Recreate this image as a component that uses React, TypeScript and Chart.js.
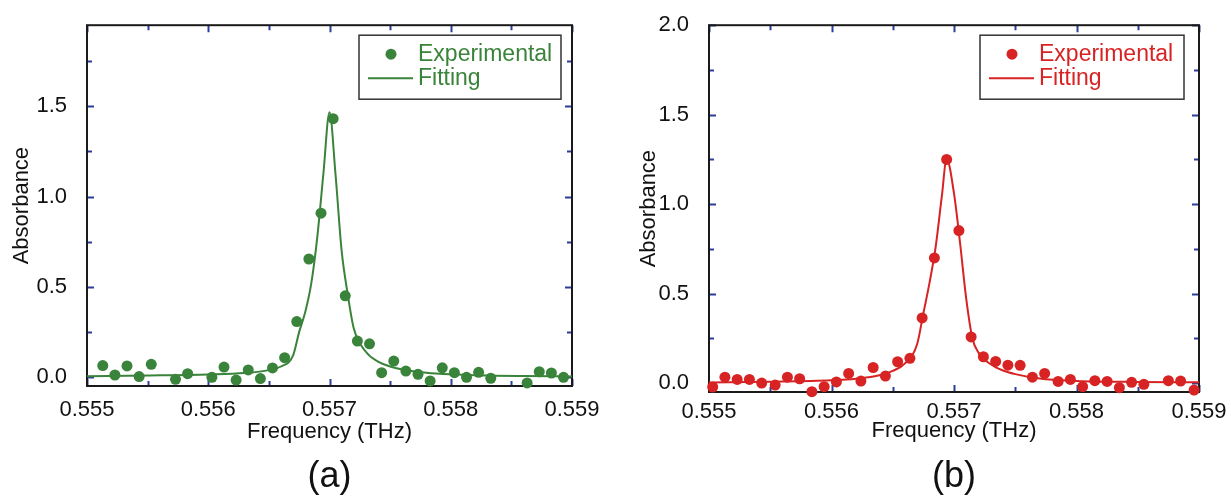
import React, { useEffect, useRef } from "react";
import { Chart, registerables } from "chart.js";

Chart.register(...registerables);

// ---------------- data ----------------
const expFreqA = [0.55513, 0.55523, 0.55533, 0.55543, 0.55553, 0.55573, 0.55583, 0.55603, 0.55613, 0.55623, 0.55633, 0.55643, 0.55653, 0.55663, 0.55673, 0.55683, 0.55693, 0.55703, 0.55713, 0.55723, 0.55733, 0.55743, 0.55753, 0.55763, 0.55773, 0.55783, 0.55793, 0.55803, 0.55813, 0.55823, 0.55833, 0.55863, 0.55873, 0.55883, 0.55893];
const expAbsA = [0.063, 0.011, 0.061, 0.002, 0.07, -0.013, 0.018, -0.002, 0.055, -0.017, 0.039, -0.009, 0.05, 0.107, 0.307, 0.654, 0.908, 1.432, 0.45, 0.199, 0.184, 0.024, 0.088, 0.033, 0.015, -0.022, 0.051, 0.024, -0.002, 0.026, -0.007, -0.033, 0.029, 0.022, -0.002];

const fitFreqA = [0.555, 0.5555, 0.556, 0.5563, 0.5565, 0.5566, 0.5567, 0.55675, 0.5568, 0.55685, 0.5569, 0.55695, 0.557, 0.55705, 0.5571, 0.55715, 0.5572, 0.5573, 0.5574, 0.5575, 0.5576, 0.5578, 0.558, 0.5583, 0.5586, 0.559];
const fitAbsA = [0.004, 0.008, 0.014, 0.022, 0.038, 0.058, 0.12, 0.25, 0.36, 0.52, 0.78, 1.13, 1.467, 1.12, 0.7, 0.46, 0.27, 0.14, 0.085, 0.058, 0.042, 0.024, 0.015, 0.008, 0.005, 0.003];

const expFreqB = [0.55503, 0.55513, 0.55523, 0.55533, 0.55543, 0.55554, 0.55564, 0.55574, 0.55584, 0.55594, 0.55604, 0.55614, 0.55624, 0.55634, 0.55644, 0.55654, 0.55664, 0.55674, 0.55684, 0.55694, 0.55704, 0.55714, 0.55724, 0.55734, 0.55744, 0.55754, 0.55764, 0.55774, 0.55785, 0.55795, 0.55805, 0.55815, 0.55825, 0.55835, 0.55845, 0.55855, 0.55875, 0.55885, 0.55896];
const expAbsB = [-0.022, 0.033, 0.02, 0.02, 0.0, -0.011, 0.033, 0.024, -0.048, -0.02, 0.006, 0.054, 0.011, 0.087, 0.039, 0.119, 0.138, 0.364, 0.699, 1.25, 0.852, 0.258, 0.147, 0.121, 0.1, 0.099, 0.033, 0.054, 0.009, 0.02, -0.02, 0.013, 0.009, -0.026, 0.004, -0.007, 0.013, 0.011, -0.039];

const fitFreqB = [0.555, 0.5555, 0.556, 0.5562, 0.5564, 0.5565, 0.5566, 0.5567, 0.55675, 0.5568, 0.55685, 0.5569, 0.55694, 0.557, 0.55705, 0.5571, 0.55715, 0.5572, 0.5573, 0.5574, 0.5575, 0.5577, 0.558, 0.5585, 0.559];
const fitAbsB = [0.003, 0.007, 0.015, 0.024, 0.045, 0.068, 0.11, 0.22, 0.39, 0.56, 0.76, 1.04, 1.252, 1.06, 0.78, 0.47, 0.25, 0.17, 0.105, 0.07, 0.05, 0.025, 0.012, 0.006, 0.004];

const xTickValues = [0.555, 0.5555, 0.556, 0.5565, 0.557, 0.5575, 0.558, 0.5585, 0.559];
const yTickValuesA = [0, 0.25, 0.5, 0.75, 1.0, 1.25, 1.5, 1.75];
const yTickValuesB = [0, 0.25, 0.5, 0.75, 1.0, 1.25, 1.5, 1.75, 2.0];

const legendLabels = ["Experimental", "Fitting"];
const panelLabels = ["(a)", "(b)"];
const xTitle = "Frequency (THz)";
const yTitle = "Absorbance";

// ---------------- styles ----------------
const FONT = "'Liberation Sans', Arial, Helvetica, sans-serif";
const GREEN = "#3a833a";
const RED = "#d72323";
const TICK_BLUE = "#2c3e9c";
const TEXT = "#111111";

const isMajorX = (v: number) => Math.round(v * 10000) % 10 === 0;
const isMajorY = (v: number) => Math.round(v * 4) % 2 === 0;

type PanelProps = {
  left: number;
  width: number;
  color: string;
  expX: number[];
  expY: number[];
  fitX: number[];
  fitY: number[];
  yMin: number;
  yMax: number;
  yTicks: number[];
  label: string;
  yAxisWidth: number;
  padRight: number;
  padBottom: number;
  xTickPad: number;
  xTitlePad: number;
  yTitlePad: number;
  legendInsetRight: number;
  legendInsetTop: number;
  legendWidth: number;
};

function Panel(p: PanelProps) {
  const ref = useRef<HTMLCanvasElement | null>(null);

  useEffect(() => {
    if (!ref.current) return;

    const framePlugin = {
      id: "frameTicks",
      beforeDatasetsDraw(chart: any) {
        const { ctx, chartArea: a, scales } = chart;
        ctx.save();
        ctx.strokeStyle = TICK_BLUE;
        ctx.lineWidth = 2;
        ctx.beginPath();
        for (const t of scales.x.ticks) {
          const px = Math.round(scales.x.getPixelForValue(t.value)) + 0.5;
          const len = isMajorX(t.value) ? 7 : 5;
          ctx.moveTo(px, a.bottom);
          ctx.lineTo(px, a.bottom - len);
          ctx.moveTo(px, a.top);
          ctx.lineTo(px, a.top + len);
        }
        for (const t of scales.y.ticks) {
          const py = Math.round(scales.y.getPixelForValue(t.value)) + 0.5;
          const len = isMajorY(t.value) ? 7 : 5;
          ctx.moveTo(a.left, py);
          ctx.lineTo(a.left + len, py);
          ctx.moveTo(a.right, py);
          ctx.lineTo(a.right - len, py);
        }
        ctx.stroke();
        ctx.strokeStyle = "#1a1a1a";
        ctx.lineWidth = 2;
        ctx.strokeRect(a.left, a.top, a.right - a.left, a.bottom - a.top);
        ctx.restore();
      },
      afterDraw(chart: any) {
        const { ctx, chartArea: a } = chart;
        ctx.save();
        // legend box
        const w = p.legendWidth;
        const h = 64;
        const bx = a.right - p.legendInsetRight - w;
        const by = a.top + p.legendInsetTop;
        ctx.fillStyle = "#ffffff";
        ctx.fillRect(bx, by, w, h);
        ctx.strokeStyle = "#333333";
        ctx.lineWidth = 1.5;
        ctx.strokeRect(bx, by, w, h);
        const labels = chart.data.datasets.map((d: any) => d.label);
        ctx.fillStyle = p.color;
        ctx.beginPath();
        ctx.arc(bx + 32, by + 19, 5.5, 0, Math.PI * 2);
        ctx.fill();
        ctx.strokeStyle = p.color;
        ctx.lineWidth = 2;
        ctx.beginPath();
        ctx.moveTo(bx + 9, by + 43);
        ctx.lineTo(bx + 54, by + 43);
        ctx.stroke();
        ctx.font = `23px ${FONT}`;
        ctx.textBaseline = "middle";
        ctx.textAlign = "left";
        ctx.fillText(labels[0], bx + 59, by + 19);
        ctx.fillText(labels[1], bx + 59, by + 43);
        // panel label
        ctx.fillStyle = TEXT;
        ctx.font = `36px ${FONT}`;
        ctx.textAlign = "center";
        ctx.fillText(p.label, (a.left + a.right) / 2, 477);
        ctx.restore();
      },
    };

    const chart = new Chart(ref.current, {
      type: "scatter",
      data: {
        datasets: [
          {
            label: legendLabels[0],
            data: p.expX.map((x, i) => ({ x, y: p.expY[i] })),
            backgroundColor: p.color,
            borderColor: p.color,
            borderWidth: 0,
            pointRadius: 5.5,
            pointHoverRadius: 5.5,
            clip: false,
          } as any,
          {
            label: legendLabels[1],
            data: p.fitX.map((x, i) => ({ x, y: p.fitY[i] })),
            showLine: true,
            borderColor: p.color,
            backgroundColor: p.color,
            borderWidth: 2,
            pointRadius: 0,
            cubicInterpolationMode: "monotone",
            clip: false,
          } as any,
        ],
      },
      options: {
        animation: false,
        responsive: false,
        maintainAspectRatio: false,
        layout: { padding: { left: 0, top: 23, right: p.padRight, bottom: p.padBottom } },
        plugins: {
          legend: { display: false },
          tooltip: { enabled: false },
        },
        scales: {
          x: {
            type: "linear",
            position: "bottom",
            min: 0.555,
            max: 0.559,
            grid: { display: false },
            border: { display: false },
            afterBuildTicks: (s: any) => {
              s.ticks = xTickValues.map((v) => ({ value: v }));
            },
            afterFit: (s: any) => {
              s.height = 60;
            },
            ticks: {
              autoSkip: false,
              maxRotation: 0,
              minRotation: 0,
              padding: p.xTickPad,
              color: TEXT,
              font: { family: FONT, size: 22 },
              callback: (v: any) => (isMajorX(Number(v)) ? Number(v).toFixed(3) : ""),
            },
            title: {
              display: true,
              text: xTitle,
              color: TEXT,
              font: { family: FONT, size: 22 },
              padding: { top: 0, bottom: p.xTitlePad },
            },
          },
          y: {
            type: "linear",
            position: "left",
            min: p.yMin,
            max: p.yMax,
            grid: { display: false },
            border: { display: false },
            afterBuildTicks: (s: any) => {
              s.ticks = p.yTicks.map((v) => ({ value: v }));
            },
            afterFit: (s: any) => {
              s.width = p.yAxisWidth;
            },
            ticks: {
              autoSkip: false,
              padding: 12,
              color: TEXT,
              font: { family: FONT, size: 22 },
              callback: (v: any) => (isMajorY(Number(v)) ? Number(v).toFixed(1) : ""),
            },
            title: {
              display: true,
              text: yTitle,
              color: TEXT,
              font: { family: FONT, size: 22 },
              padding: { top: p.yTitlePad, bottom: 0 },
            },
          },
        },
      } as any,
      plugins: [framePlugin],
    });

    return () => chart.destroy();
  }, []);

  return (
    <canvas
      ref={ref}
      width={p.width}
      height={500}
      style={{ position: "absolute", left: p.left, top: 0, width: p.width, height: 500 }}
    />
  );
}

export default function App() {
  return (
    <div style={{ position: "absolute", left: 0, top: 0, width: 1231, height: 500, background: "#ffffff" }}>
      <Panel
        left={0}
        width={620}
        color={GREEN}
        expX={expFreqA}
        expY={expAbsA}
        fitX={fitFreqA}
        fitY={fitAbsA}
        yMin={-0.05}
        yMax={1.95}
        yTicks={yTickValuesA}
        label={panelLabels[0]}
        yAxisWidth={87}
        padRight={48}
        padBottom={54}
        xTickPad={3}
        xTitlePad={1}
        yTitlePad={9}
        legendInsetRight={11}
        legendInsetTop={10}
        legendWidth={202}
      />
      <Panel
        left={620}
        width={611}
        color={RED}
        expX={expFreqB}
        expY={expAbsB}
        fitX={fitFreqB}
        fitY={fitAbsB}
        yMin={-0.05}
        yMax={2.0}
        yTicks={yTickValuesB}
        label={panelLabels[1]}
        yAxisWidth={89}
        padRight={32}
        padBottom={48}
        xTickPad={-1}
        xTitlePad={8}
        yTitlePad={16}
        legendInsetRight={15}
        legendInsetTop={10}
        legendWidth={204}
      />
    </div>
  );
}
